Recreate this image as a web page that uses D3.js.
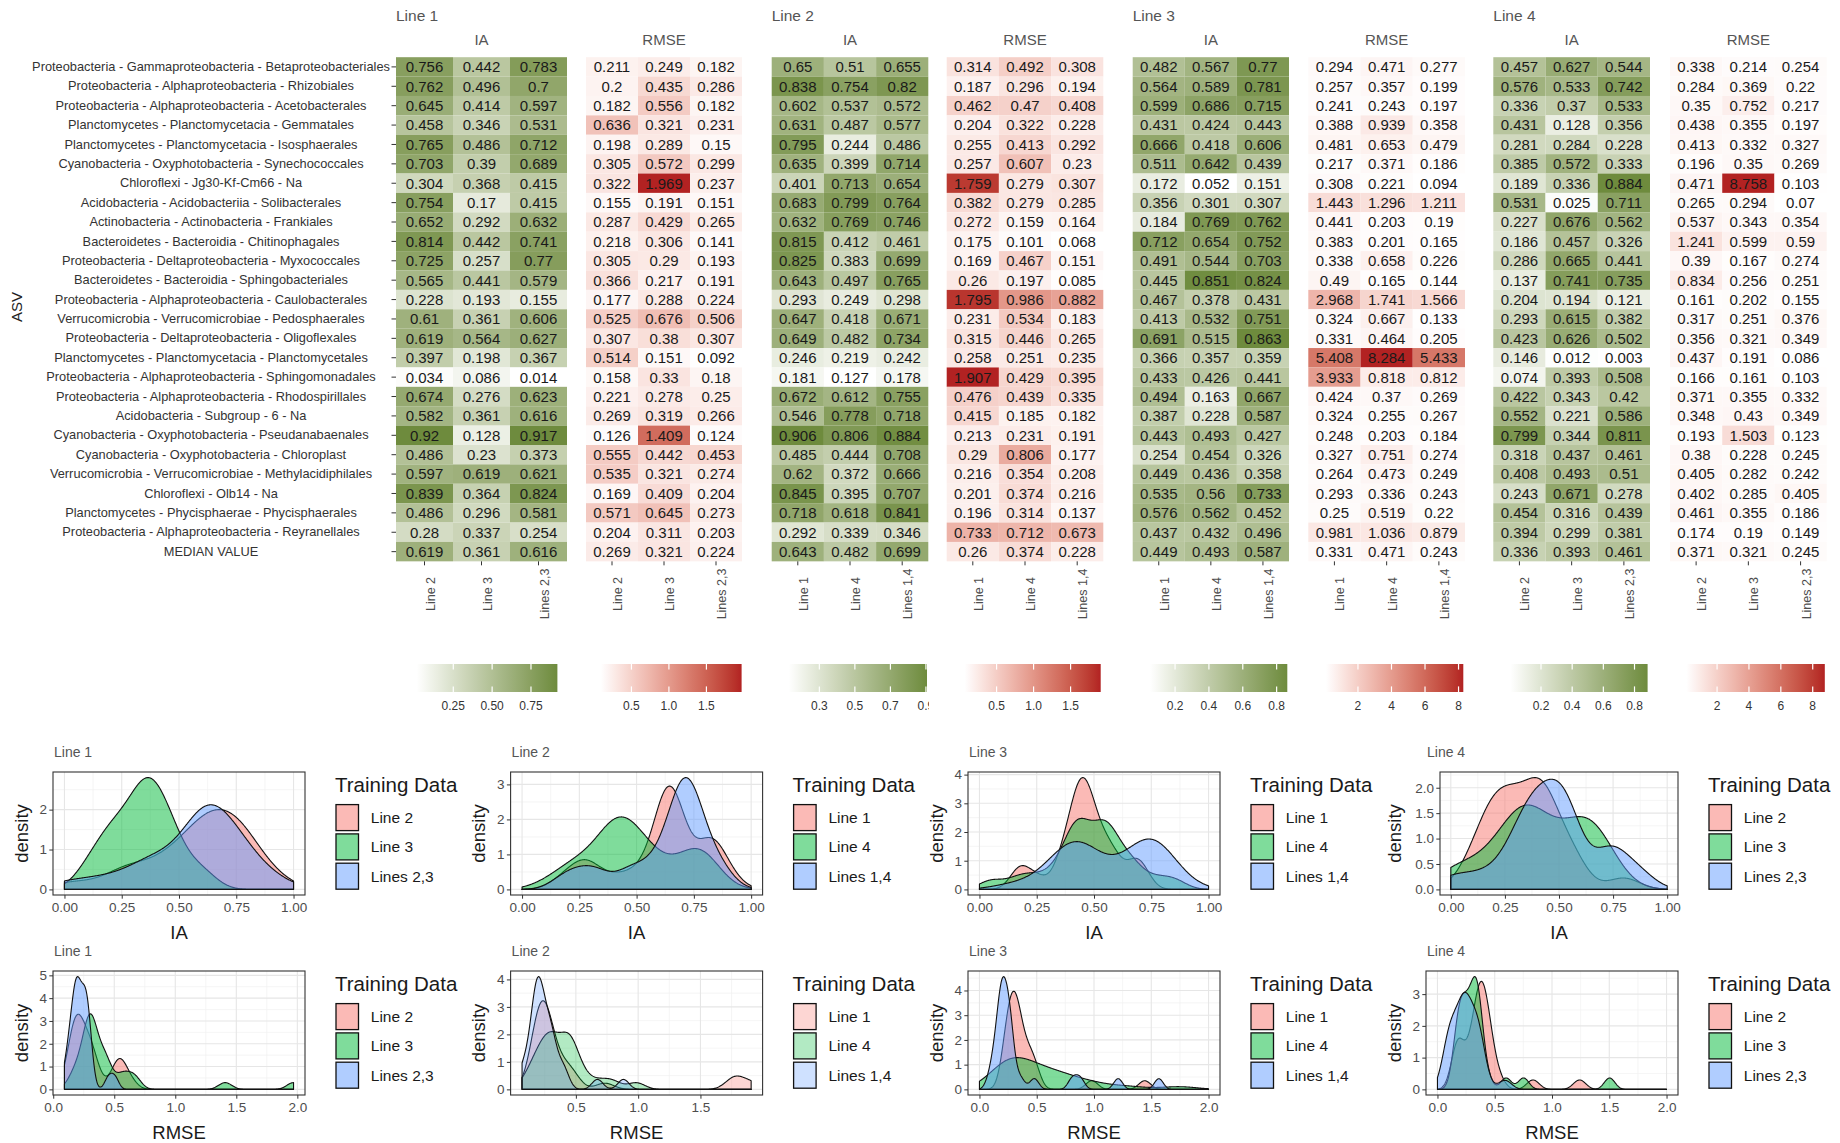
<!DOCTYPE html>
<html>
<head>
<meta charset="utf-8">
<script src="https://cdn.jsdelivr.net/npm/d3@7"></script>
<style>
  body { margin: 0; background: #fff; }
</style>
</head>
<body>
<svg id="chart" width="1840" height="1143"></svg>
<script>
// ---- data ----
const asvLabels = [
  "Proteobacteria - Gammaproteobacteria - Betaproteobacteriales",
  "Proteobacteria - Alphaproteobacteria - Rhizobiales",
  "Proteobacteria - Alphaproteobacteria - Acetobacterales",
  "Planctomycetes - Planctomycetacia - Gemmatales",
  "Planctomycetes - Planctomycetacia - Isosphaerales",
  "Cyanobacteria - Oxyphotobacteria - Synechococcales",
  "Chloroflexi - Jg30-Kf-Cm66 - Na",
  "Acidobacteria - Acidobacteriia - Solibacterales",
  "Actinobacteria - Actinobacteria - Frankiales",
  "Bacteroidetes - Bacteroidia - Chitinophagales",
  "Proteobacteria - Deltaproteobacteria - Myxococcales",
  "Bacteroidetes - Bacteroidia - Sphingobacteriales",
  "Proteobacteria - Alphaproteobacteria - Caulobacterales",
  "Verrucomicrobia - Verrucomicrobiae - Pedosphaerales",
  "Proteobacteria - Deltaproteobacteria - Oligoflexales",
  "Planctomycetes - Planctomycetacia - Planctomycetales",
  "Proteobacteria - Alphaproteobacteria - Sphingomonadales",
  "Proteobacteria - Alphaproteobacteria - Rhodospirillales",
  "Acidobacteria - Subgroup - 6 - Na",
  "Cyanobacteria - Oxyphotobacteria - Pseudanabaenales",
  "Cyanobacteria - Oxyphotobacteria - Chloroplast",
  "Verrucomicrobia - Verrucomicrobiae - Methylacidiphilales",
  "Chloroflexi - Olb14 - Na",
  "Planctomycetes - Phycisphaerae - Phycisphaerales",
  "Proteobacteria - Alphaproteobacteria - Reyranellales",
  "MEDIAN VALUE"
];
const lineNames = ["Line 1", "Line 2", "Line 3", "Line 4"];
const trainLabels = [
  ["Line 2", "Line 3", "Lines 2,3"],
  ["Line 1", "Line 4", "Lines 1,4"],
  ["Line 1", "Line 4", "Lines 1,4"],
  ["Line 2", "Line 3", "Lines 2,3"]
];

const ia1 = [
  [0.756,0.442,0.783],[0.762,0.496,0.7],[0.645,0.414,0.597],[0.458,0.346,0.531],[0.765,0.486,0.712],
  [0.703,0.39,0.689],[0.304,0.368,0.415],[0.754,0.17,0.415],[0.652,0.292,0.632],[0.814,0.442,0.741],
  [0.725,0.257,0.77],[0.565,0.441,0.579],[0.228,0.193,0.155],[0.61,0.361,0.606],[0.619,0.564,0.627],
  [0.397,0.198,0.367],[0.034,0.086,0.014],[0.674,0.276,0.623],[0.582,0.361,0.616],[0.92,0.128,0.917],
  [0.486,0.23,0.373],[0.597,0.619,0.621],[0.839,0.364,0.824],[0.486,0.296,0.581],[0.28,0.337,0.254],
  [0.619,0.361,0.616]
];
const rmse1 = [
  [0.211,0.249,0.182],[0.2,0.435,0.286],[0.182,0.556,0.182],[0.636,0.321,0.231],[0.198,0.289,0.15],
  [0.305,0.572,0.299],[0.322,1.969,0.237],[0.155,0.191,0.151],[0.287,0.429,0.265],[0.218,0.306,0.141],
  [0.305,0.29,0.193],[0.366,0.217,0.191],[0.177,0.288,0.224],[0.525,0.676,0.506],[0.307,0.38,0.307],
  [0.514,0.151,0.092],[0.158,0.33,0.18],[0.221,0.278,0.25],[0.269,0.319,0.266],[0.126,1.409,0.124],
  [0.555,0.442,0.453],[0.535,0.321,0.274],[0.169,0.409,0.204],[0.571,0.645,0.273],[0.204,0.311,0.203],
  [0.269,0.321,0.224]
];
const ia2 = [
  [0.65,0.51,0.655],[0.838,0.754,0.82],[0.602,0.537,0.572],[0.631,0.487,0.577],[0.795,0.244,0.486],
  [0.635,0.399,0.714],[0.401,0.713,0.654],[0.683,0.799,0.764],[0.632,0.769,0.746],[0.815,0.412,0.461],
  [0.825,0.383,0.699],[0.643,0.497,0.765],[0.293,0.249,0.298],[0.647,0.418,0.671],[0.649,0.482,0.734],
  [0.246,0.219,0.242],[0.181,0.127,0.178],[0.672,0.612,0.755],[0.546,0.778,0.718],[0.906,0.806,0.884],
  [0.485,0.444,0.708],[0.62,0.372,0.666],[0.845,0.395,0.707],[0.718,0.618,0.841],[0.292,0.339,0.346],
  [0.643,0.482,0.699]
];
const rmse2 = [
  [0.314,0.492,0.308],[0.187,0.296,0.194],[0.462,0.47,0.408],[0.204,0.322,0.228],[0.255,0.413,0.292],
  [0.257,0.607,0.23],[1.759,0.279,0.307],[0.382,0.279,0.285],[0.272,0.159,0.164],[0.175,0.101,0.068],
  [0.169,0.467,0.151],[0.26,0.197,0.085],[1.795,0.986,0.882],[0.231,0.534,0.183],[0.315,0.446,0.265],
  [0.258,0.251,0.235],[1.907,0.429,0.395],[0.476,0.439,0.335],[0.415,0.185,0.182],[0.213,0.231,0.191],
  [0.29,0.806,0.177],[0.216,0.354,0.208],[0.201,0.374,0.216],[0.196,0.314,0.137],[0.733,0.712,0.673],
  [0.26,0.374,0.228]
];
const ia3 = [
  [0.482,0.567,0.77],[0.564,0.589,0.781],[0.599,0.686,0.715],[0.431,0.424,0.443],[0.666,0.418,0.606],
  [0.511,0.642,0.439],[0.172,0.052,0.151],[0.356,0.301,0.307],[0.184,0.769,0.762],[0.712,0.654,0.752],
  [0.491,0.544,0.703],[0.445,0.851,0.824],[0.467,0.378,0.431],[0.413,0.532,0.751],[0.691,0.515,0.863],
  [0.366,0.357,0.359],[0.433,0.426,0.441],[0.494,0.163,0.667],[0.387,0.228,0.587],[0.443,0.493,0.427],
  [0.254,0.454,0.326],[0.449,0.436,0.358],[0.535,0.56,0.733],[0.576,0.562,0.452],[0.437,0.432,0.496],
  [0.449,0.493,0.587]
];
const rmse3 = [
  [0.294,0.471,0.277],[0.257,0.357,0.199],[0.241,0.243,0.197],[0.388,0.939,0.358],[0.481,0.653,0.479],
  [0.217,0.371,0.186],[0.308,0.221,0.094],[1.443,1.296,1.211],[0.441,0.203,0.19],[0.383,0.201,0.165],
  [0.338,0.658,0.226],[0.49,0.165,0.144],[2.968,1.741,1.566],[0.324,0.667,0.133],[0.331,0.464,0.205],
  [5.408,8.284,5.433],[3.933,0.818,0.812],[0.424,0.37,0.269],[0.324,0.255,0.267],[0.248,0.203,0.184],
  [0.327,0.751,0.274],[0.264,0.473,0.249],[0.293,0.336,0.243],[0.25,0.519,0.22],[0.981,1.036,0.879],
  [0.331,0.471,0.243]
];
const ia4 = [
  [0.457,0.627,0.544],[0.576,0.533,0.742],[0.336,0.37,0.533],[0.431,0.128,0.356],[0.281,0.284,0.228],
  [0.385,0.572,0.333],[0.189,0.336,0.884],[0.531,0.025,0.711],[0.227,0.676,0.562],[0.186,0.457,0.326],
  [0.286,0.665,0.441],[0.137,0.741,0.735],[0.204,0.194,0.121],[0.293,0.615,0.382],[0.423,0.626,0.502],
  [0.146,0.012,0.003],[0.074,0.393,0.508],[0.422,0.343,0.42],[0.552,0.221,0.586],[0.799,0.344,0.811],
  [0.318,0.437,0.461],[0.408,0.493,0.51],[0.243,0.671,0.278],[0.454,0.316,0.439],[0.394,0.299,0.381],
  [0.336,0.393,0.461]
];
const rmse4 = [
  [0.338,0.214,0.254],[0.284,0.369,0.22],[0.35,0.752,0.217],[0.438,0.355,0.197],[0.413,0.332,0.327],
  [0.196,0.35,0.269],[0.471,8.758,0.103],[0.265,0.294,0.07],[0.537,0.343,0.354],[1.241,0.599,0.59],
  [0.39,0.167,0.274],[0.834,0.256,0.251],[0.161,0.202,0.155],[0.317,0.251,0.376],[0.356,0.321,0.349],
  [0.437,0.191,0.086],[0.166,0.161,0.103],[0.371,0.355,0.332],[0.348,0.43,0.349],[0.193,1.503,0.123],
  [0.38,0.228,0.245],[0.405,0.282,0.242],[0.402,0.285,0.405],[0.461,0.355,0.186],[0.174,0.19,0.149],
  [0.371,0.321,0.245]
];

// colour bar ticks
const iaBarTicks = [[0.25,0.5,0.75],[0.3,0.5,0.7,0.9],[0.2,0.4,0.6,0.8],[0.2,0.4,0.6,0.8]];
const rmseBarTicks = [[0.5,1,1.5],[0.5,1,1.5],[2,4,6,8],[2,4,6,8]];
const iaBarFmt = [".2f", ".1f", ".1f", ".1f"];
const rmseBarFmt = [".1f", ".1f", "d", "d"];

// density axis ticks
const iaXTicks = [0, 0.25, 0.5, 0.75, 1];
const rmseXTicks = [[0,0.5,1,1.5,2],[0.5,1,1.5],[0,0.5,1,1.5,2],[0,0.5,1,1.5,2]];
const iaYTicks = [[0,1,2],[0,1,2,3],[0,1,2,3,4],[0,0.5,1,1.5,2]];
const rmseYTicks = [[0,1,2,3,4,5],[0,1,2,3,4],[0,1,2,3,4],[0,1,2,3]];
const iaLimits = [0, 1];
const rmseLimits = [null, null, [0, 2], [0, 2]];

// ---- layout ----
const svg = d3.select("#chart").attr("font-family", "'Liberation Sans', Arial, sans-serif");
const defs = svg.append("defs");

const rowTop = 57.2, rowH = 19.39;
const yBand = d3.scaleBand().domain(asvLabels).range([rowTop, rowTop + rowH * asvLabels.length]);
const heatBottom = yBand.range()[1];

const iaSets = [ia1, ia2, ia3, ia4];
const rmseSets = [rmse1, rmse2, rmse3, rmse4];
const iaSpan = [[396, 567], [771.7, 928.3], [1132.7, 1289], [1493.3, 1650]];
const rmseSpan = [[586, 742], [946.7, 1103.3], [1308.3, 1465], [1670, 1826.7]];
const iaBarSpan = [[416.6, 557.4], [788.6, 927], [1150, 1287.3], [1510.3, 1647.6]];
const rmseBarSpan = [[600.8, 741.6], [964.6, 1100.7], [1326, 1463.3], [1686.3, 1824.8]];
const barTop = 664, barH = 28;

let uid = 0;
function drawHeat(data, cols, span, hiColor, barSpan, barTicks, barFmt, heading) {
  const g = svg.append("g");
  const color = d3.scaleLinear()
    .domain(d3.extent(data.flat()))
    .range(["#ffffff", hiColor])
    .interpolate(d3.interpolateLab);
  const x = d3.scaleBand().domain(cols).range(span);

  const cells = [];
  data.forEach((row, r) => row.forEach((v, c) => cells.push({ asv: asvLabels[r], col: cols[c], v })));

  g.selectAll("rect.cell").data(cells).join("rect")
    .attr("class", "cell")
    .attr("x", d => x(d.col))
    .attr("y", d => yBand(d.asv))
    .attr("width", x.bandwidth())
    .attr("height", yBand.bandwidth())
    .attr("fill", d => color(d.v));

  g.selectAll("text.val").data(cells).join("text")
    .attr("class", "val")
    .attr("x", d => x(d.col) + x.bandwidth() / 2)
    .attr("y", d => yBand(d.asv) + yBand.bandwidth() / 2)
    .attr("dy", "0.36em")
    .attr("text-anchor", "middle")
    .attr("font-size", 15)
    .attr("fill", "#1a1a1a")
    .text(d => d.v);

  g.append("text")
    .attr("x", (span[0] + span[1]) / 2)
    .attr("y", 40)
    .attr("dy", "0.36em")
    .attr("text-anchor", "middle")
    .attr("font-size", 15)
    .attr("fill", "#555")
    .text(heading);

  const ax = g.append("g")
    .attr("transform", `translate(0,${heatBottom})`)
    .call(d3.axisBottom(x).tickSize(4).tickSizeOuter(0));
  ax.select(".domain").remove();
  ax.selectAll(".tick line").attr("stroke", "#333");
  ax.selectAll(".tick text")
    .attr("transform", "rotate(-90)")
    .attr("text-anchor", "middle")
    .attr("x", -(594 - heatBottom))
    .attr("y", 10)
    .attr("dy", 0)
    .attr("font-size", 12.5)
    .attr("font-family", "'Liberation Sans', Arial, sans-serif")
    .attr("fill", "#4d4d4d");

  // colour bar
  const [b0, b1] = barSpan;
  const dom = color.domain();
  const bx = d3.scaleLinear().domain(dom).range([b0, b1]);
  const gid = "grad" + (uid++);
  defs.append("linearGradient").attr("id", gid)
    .selectAll("stop").data(d3.range(21)).join("stop")
    .attr("offset", k => k / 20)
    .attr("stop-color", k => color(dom[0] + (dom[1] - dom[0]) * k / 20));
  g.append("rect")
    .attr("x", b0).attr("y", barTop)
    .attr("width", b1 - b0).attr("height", barH)
    .attr("fill", `url(#${gid})`);
  const tk = g.selectAll("g.bt").data(barTicks).join("g").attr("class", "bt");
  tk.append("line")
    .attr("x1", d => bx(d)).attr("x2", d => bx(d))
    .attr("y1", barTop).attr("y2", barTop + barH / 5)
    .attr("stroke", "#fff").attr("stroke-width", 1.2);
  tk.append("line")
    .attr("x1", d => bx(d)).attr("x2", d => bx(d))
    .attr("y1", barTop + barH).attr("y2", barTop + barH * 4 / 5)
    .attr("stroke", "#fff").attr("stroke-width", 1.2);
  const cid = "clip" + (uid++);
  defs.append("clipPath").attr("id", cid).append("rect")
    .attr("x", b0 - 30).attr("y", barTop).attr("width", b1 - b0 + 32).attr("height", 80);
  g.append("g").attr("clip-path", `url(#${cid})`)
    .selectAll("text").data(barTicks).join("text")
    .attr("x", d => bx(d))
    .attr("y", 706)
    .attr("dy", "0.36em")
    .attr("text-anchor", "middle")
    .attr("font-size", 12)
    .attr("fill", "#333")
    .text(d => d3.format(barFmt)(d));
  return g;
}

lineNames.forEach((name, i) => {
  svg.append("text")
    .attr("x", iaSpan[i][0])
    .attr("y", 15.5)
    .attr("dy", "0.36em")
    .attr("font-size", 15.5)
    .attr("fill", "#555")
    .text(name);
  drawHeat(iaSets[i], trainLabels[i], iaSpan[i], "#6E8B3D", iaBarSpan[i], iaBarTicks[i], iaBarFmt[i], "IA");
  drawHeat(rmseSets[i], trainLabels[i], rmseSpan[i], "#B22222", rmseBarSpan[i], rmseBarTicks[i], rmseBarFmt[i], "RMSE");
});

// row labels (ASV axis on the first heatmap)
const yAx = svg.append("g")
  .attr("transform", `translate(${iaSpan[0][0]},0)`)
  .call(d3.axisLeft(yBand).tickSize(4.5).tickSizeOuter(0));
yAx.select(".domain").remove();
yAx.selectAll(".tick line").attr("stroke", "#333");
yAx.selectAll(".tick text")
  .attr("x", 211 - iaSpan[0][0])
  .attr("text-anchor", "middle")
  .attr("font-size", 12.8)
  .attr("font-family", "'Liberation Sans', Arial, sans-serif")
  .attr("fill", "#333");

svg.append("text")
  .attr("transform", "translate(17,307) rotate(-90)")
  .attr("dy", "0.36em")
  .attr("text-anchor", "middle")
  .attr("font-size", 15)
  .attr("fill", "#222")
  .text("ASV");

// ---- density plots ----
const fills = ["#F8766D", "#00BA38", "#619CFF"];
const blockX = [0, 457.6, 915, 1373];
const rowBox = [[772, 895], [971, 1095]];
const rowTitleY = [752, 950.5];
const densAlpha = [[0.5, 0.5, 0.5, 0.5], [0.5, 0.3, 0.5, 0.5]];

function bwNrd0(x) {
  const s = d3.deviation(x);
  const sorted = x.slice().sort(d3.ascending);
  const iqr = d3.quantileSorted(sorted, 0.75) - d3.quantileSorted(sorted, 0.25);
  let lo = Math.min(s, iqr / 1.34);
  if (!(lo > 0)) lo = s || 1;
  return 0.9 * lo * Math.pow(x.length, -0.2);
}
function kde(x, lo, hi) {
  const h = bwNrd0(x);
  const k = 1 / (x.length * h * Math.sqrt(2 * Math.PI));
  return d3.range(512).map(j => {
    const p = lo + (hi - lo) * j / 511;
    return [p, k * d3.sum(x, v => Math.exp(-0.5 * ((p - v) / h) ** 2))];
  });
}
function minorTicks(major, lo, hi) {
  const step = major[1] - major[0];
  const out = [];
  for (let t = major[0] - step / 2; t <= major[major.length - 1] + step / 2 + 1e-9; t += step) {
    if (t >= lo && t <= hi) out.push(t);
  }
  return out;
}

function densityPanel(r, i) {
  const data = (r === 0 ? iaSets : rmseSets)[i].slice(0, 25);
  const allVals = data.flat();
  const lim = r === 0 ? iaLimits : (rmseLimits[i] || d3.extent(allVals));
  const groups = trainLabels[i].map((lab, c) => ({
    label: lab,
    values: data.map(row => row[c]).filter(v => v >= lim[0] && v <= lim[1])
  }));
  groups.forEach(gr => gr.curve = kde(gr.values, lim[0], lim[1]));
  const ymax = d3.max(groups, gr => d3.max(gr.curve, d => d[1]));

  const xT = r === 0 ? iaXTicks : rmseXTicks[i];
  const yT = r === 0 ? iaYTicks[i] : rmseYTicks[i];
  const yDec = yT.some(v => v % 1 !== 0);
  const bx = blockX[i];
  const left = bx + (yDec ? 67 : 53), right = bx + 305;
  const [top, bottom] = rowBox[r];

  const span = lim[1] - lim[0];
  const x = d3.scaleLinear().domain([lim[0] - 0.05 * span, lim[1] + 0.05 * span]).range([left, right]);
  const y = d3.scaleLinear().domain([-0.05 * ymax, 1.05 * ymax]).range([bottom, top]);

  const g = svg.append("g");
  g.append("rect").attr("x", left).attr("y", top).attr("width", right - left).attr("height", bottom - top).attr("fill", "#fff");

  const xd = x.domain(), yd = y.domain();
  g.selectAll("line.xmin").data(minorTicks(xT, xd[0], xd[1])).join("line")
    .attr("x1", d => x(d)).attr("x2", d => x(d)).attr("y1", top).attr("y2", bottom)
    .attr("stroke", "#f0f0f0").attr("stroke-width", 0.7);
  g.selectAll("line.ymin").data(minorTicks(yT, yd[0], yd[1])).join("line")
    .attr("y1", d => y(d)).attr("y2", d => y(d)).attr("x1", left).attr("x2", right)
    .attr("stroke", "#f0f0f0").attr("stroke-width", 0.7);
  g.selectAll("line.xmaj").data(xT).join("line")
    .attr("x1", d => x(d)).attr("x2", d => x(d)).attr("y1", top).attr("y2", bottom)
    .attr("stroke", "#e6e6e6").attr("stroke-width", 1.1);
  g.selectAll("line.ymaj").data(yT).join("line")
    .attr("y1", d => y(d)).attr("y2", d => y(d)).attr("x1", left).attr("x2", right)
    .attr("stroke", "#e6e6e6").attr("stroke-width", 1.1);

  const area = d3.area().x(d => x(d[0])).y0(y(0)).y1(d => y(d[1]));
  groups.forEach((gr, c) => {
    g.append("path")
      .attr("d", area(gr.curve))
      .attr("fill", fills[c])
      .attr("fill-opacity", densAlpha[r][i])
      .attr("stroke", "#111")
      .attr("stroke-width", 1.1)
      .attr("stroke-linejoin", "round");
  });

  g.append("rect").attr("x", left).attr("y", top).attr("width", right - left).attr("height", bottom - top)
    .attr("fill", "none").attr("stroke", "#333").attr("stroke-width", 1.1);

  const xAx = g.append("g").attr("transform", `translate(0,${bottom})`)
    .call(d3.axisBottom(x).tickValues(xT).tickSize(3.7).tickFormat(d3.format(r === 0 ? ".2f" : ".1f")));
  const yAx = g.append("g").attr("transform", `translate(${left},0)`)
    .call(d3.axisLeft(y).tickValues(yT).tickSize(3.7).tickFormat(d3.format(yDec ? ".1f" : "d")));
  [xAx, yAx].forEach(a => {
    a.select(".domain").remove();
    a.selectAll(".tick line").attr("stroke", "#333");
    a.selectAll(".tick text").attr("font-size", 13.5).attr("fill", "#4d4d4d")
      .attr("font-family", "'Liberation Sans', Arial, sans-serif");
  });
  xAx.selectAll(".tick text").attr("y", 7);
  yAx.selectAll(".tick text").attr("x", -6);

  g.append("text")
    .attr("x", (left + right) / 2).attr("y", bottom + 37).attr("dy", "0.36em")
    .attr("text-anchor", "middle").attr("font-size", 18.5).attr("fill", "#1a1a1a")
    .text(r === 0 ? "IA" : "RMSE");
  g.append("text")
    .attr("transform", `translate(${bx + 21},${(top + bottom) / 2}) rotate(-90)`)
    .attr("dy", "0.36em").attr("text-anchor", "middle").attr("font-size", 18.5).attr("fill", "#1a1a1a")
    .text("density");
  g.append("text")
    .attr("x", bx + 54).attr("y", rowTitleY[r]).attr("dy", "0.36em")
    .attr("font-size", 14).attr("fill", "#555")
    .text(lineNames[i]);

  // legend
  const lg = g.append("g");
  lg.append("text")
    .attr("x", bx + 335).attr("y", top + 13).attr("dy", "0.36em")
    .attr("font-size", 20.5).attr("fill", "#1a1a1a")
    .text("Training Data");
  groups.forEach((gr, c) => {
    const cy = top + 45.6 + c * 29.3;
    lg.append("rect")
      .attr("x", bx + 336).attr("y", cy - 13).attr("width", 22.5).attr("height", 26)
      .attr("fill", fills[c]).attr("fill-opacity", densAlpha[r][i])
      .attr("stroke", "#111").attr("stroke-width", 1.3);
    lg.append("text")
      .attr("x", bx + 370.8).attr("y", cy).attr("dy", "0.36em")
      .attr("font-size", 15.5).attr("fill", "#1a1a1a")
      .text(gr.label);
  });
}

[0, 1].forEach(r => [0, 1, 2, 3].forEach(i => densityPanel(r, i)));
</script>
</body>
</html>
